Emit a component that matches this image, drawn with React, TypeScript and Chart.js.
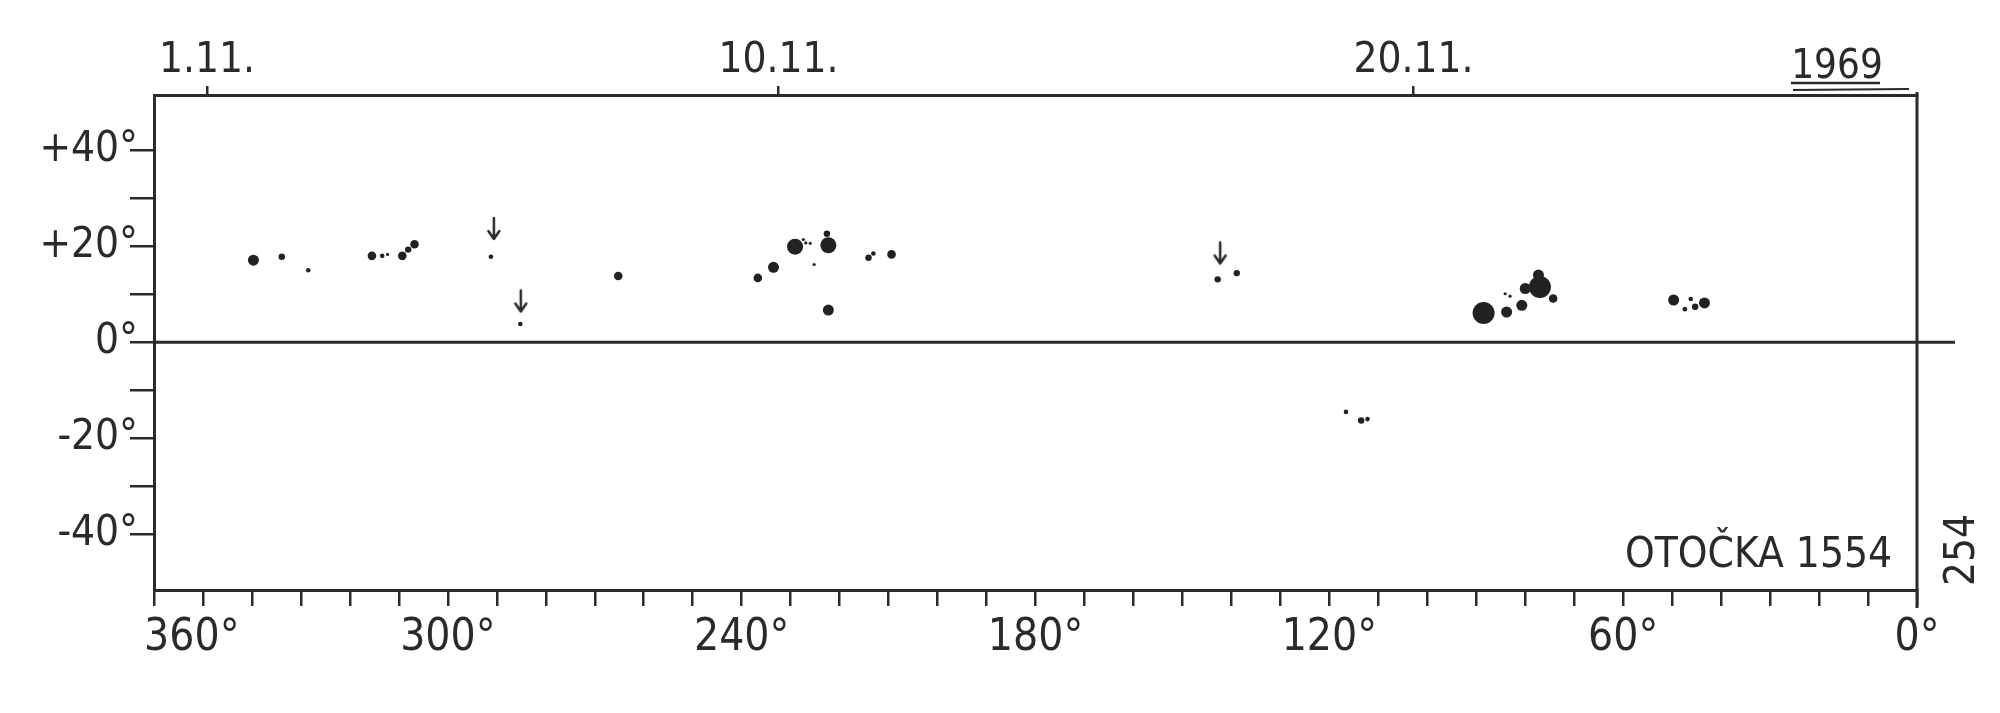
import React, { useEffect, useRef } from 'react';
import { Chart, registerables } from 'chart.js';

Chart.register(...registerables);

// ---- tick labels ----
const lonLabelValues = [360, 300, 240, 180, 120, 60, 0];
const latLabelValues = [40, 20, 0, -20, -40];
const dateDays = [1, 10, 20];
const dateLabels = ['1.11.', '10.11.', '20.11.'];
const yearLabel = '1969';
const rotationLabel = 'OTOČKA 1554';
const sideLabel = '254';

// ---- sunspot groups (Carrington longitude, latitude) by size class ----
const hugeLon = [88.5, 77.0];
const hugeLat = [6.1, 11.5];

const largeLon = [229.1, 222.3];
const largeLat = [19.9, 20.2];

const mediumLon = [339.7, 233.5, 222.3, 83.8, 80.0, 80.7, 77.3, 49.7, 43.4];
const mediumLat = [17.1, 15.6, 6.7, 6.3, 11.2, 7.7, 14.0, 8.8, 8.2];

const smallLon = [315.5, 309.3, 306.8, 265.2, 236.7, 209.4, 74.3];
const smallLat = [18.0, 18.0, 20.4, 13.8, 13.4, 18.3, 9.1];

const littleLon = [333.9, 308.1, 222.6, 214.1, 142.8, 138.9, 113.5, 45.3];
const littleLat = [17.8, 19.3, 22.6, 17.6, 13.1, 14.4, -16.3, 7.4];

const tinyLon = [328.5, 313.4, 291.2, 285.2, 213.1, 116.6, 112.2, 46.2, 47.4];
const tinyLat = [15.0, 18.0, 17.8, 3.8, 18.5, -14.5, -16.0, 9.0, 6.9];

const speckLon = [312.3, 227.4, 226.9, 226.0, 225.2, 84.1, 83.1];
const speckLat = [18.3, 21.4, 20.7, 20.6, 16.2, 10.1, 9.6];

// ---- arrows marking new groups ----
const arrowLon = [290.6, 285.1, 142.3];
const arrowLat = [23.6, 8.5, 18.5];

const INK = '#2a2a2a';
const FONT = '"Liberation Sans Narrow", "DejaVu Sans Condensed", "Roboto", sans-serif';

const pts = (lon: number[], lat: number[]) => lon.map((x, i) => ({ x, y: lat[i] }));

function makeArrow(): HTMLCanvasElement {
  const c = document.createElement('canvas');
  c.width = 16;
  c.height = 26;
  const g = c.getContext('2d')!;
  g.strokeStyle = INK;
  g.lineWidth = 2.5;
  g.lineCap = 'round';
  g.lineJoin = 'round';
  g.beginPath();
  g.moveTo(8, 2);
  g.lineTo(8, 23);
  g.moveTo(2.5, 15);
  g.lineTo(8, 23);
  g.lineTo(13.5, 15);
  g.stroke();
  return c;
}

const decor = {
  id: 'decor',
  beforeDatasetsDraw(chart: any) {
    const { ctx, chartArea: a, scales } = chart;
    const y0 = scales.y.getPixelForValue(0);
    ctx.save();
    ctx.strokeStyle = INK;
    ctx.lineWidth = 3;
    ctx.beginPath();
    ctx.moveTo(a.left, y0);
    ctx.lineTo(a.right + 38, y0);
    ctx.stroke();
    ctx.beginPath();
    ctx.moveTo(a.right, a.top - 3);
    ctx.lineTo(a.right, a.bottom + 18);
    ctx.stroke();
    ctx.restore();
  },
  afterDraw(chart: any) {
    const { ctx, chartArea: a } = chart;
    ctx.save();
    ctx.fillStyle = INK;
    ctx.strokeStyle = INK;
    // year with double underline
    ctx.font = `40px ${FONT}`;
    ctx.textAlign = 'center';
    ctx.textBaseline = 'alphabetic';
    ctx.fillText(yearLabel, a.right - 80, 78);
    ctx.lineWidth = 2.5;
    ctx.beginPath();
    ctx.moveTo(a.right - 126, 83);
    ctx.lineTo(a.right - 37, 83);
    ctx.stroke();
    ctx.lineWidth = 2;
    ctx.beginPath();
    ctx.moveTo(a.right - 124, 90);
    ctx.lineTo(a.right - 8, 89);
    ctx.stroke();
    // rotation label
    ctx.font = `42px ${FONT}`;
    ctx.textAlign = 'right';
    ctx.fillText(rotationLabel, a.right - 25, a.bottom - 23);
    // side number, rotated
    ctx.translate(a.right + 46, a.bottom - 40);
    ctx.rotate(-Math.PI / 2);
    ctx.textAlign = 'center';
    ctx.textBaseline = 'middle';
    ctx.font = `42px ${FONT}`;
    ctx.fillText(sideLabel, 0, 0);
    ctx.restore();
  },
};

export default function App() {
  const ref = useRef<HTMLCanvasElement>(null);

  useEffect(() => {
    if (!ref.current) return;
    const arrow = makeArrow();
    const spot = (label: string, lon: number[], lat: number[], r: number) => ({
      label,
      data: pts(lon, lat),
      pointRadius: r,
      pointHoverRadius: r,
      backgroundColor: '#222',
      borderColor: '#222',
      borderWidth: 0,
      xAxisID: 'x',
      yAxisID: 'y',
    });
    const chart = new Chart(ref.current, {
      type: 'scatter',
      data: {
        datasets: [
          spot('huge', hugeLon, hugeLat, 11),
          spot('large', largeLon, largeLat, 8),
          spot('medium', mediumLon, mediumLat, 5.5),
          spot('small', smallLon, smallLat, 4.3),
          spot('little', littleLon, littleLat, 3.2),
          spot('tiny', tinyLon, tinyLat, 2.3),
          spot('speck', speckLon, speckLat, 1.6),
          {
            label: 'arrows',
            data: pts(arrowLon, arrowLat),
            pointStyle: arrow,
            pointRadius: 10,
            xAxisID: 'x',
            yAxisID: 'y',
          } as any,
        ],
      },
      options: {
        animation: false,
        responsive: false,
        events: [],
        layout: { padding: { left: 0, right: 83, top: 0, bottom: 0 } },
        plugins: { legend: { display: false }, tooltip: { enabled: false }, title: { display: false } },
        scales: {
          x: {
            type: 'linear',
            position: 'bottom',
            reverse: true,
            min: 0,
            max: 360,
            afterBuildTicks: (s: any) => {
              const t = [];
              for (let v = 0; v <= 360; v += 10) t.push({ value: v });
              s.ticks = t;
            },
            afterFit: (s: any) => {
              s.height = 123;
            },
            border: { display: true, color: INK, width: 3 },
            grid: { display: true, drawOnChartArea: false, drawTicks: true, tickLength: 16, color: INK, lineWidth: 2.5 },
            ticks: {
              autoSkip: false,
              maxRotation: 0,
              padding: 6,
              color: INK,
              font: { family: FONT, size: 44 },
              callback: (v: any) => {
                const n = Number(v);
                if (!lonLabelValues.includes(n)) return '';
                return n === 360 ? `\u2007\u2007\u2007${n}°` : `${n}°`;
              },
            },
          },
          x2: {
            type: 'linear',
            position: 'top',
            min: 0.165,
            max: 27.93,
            afterBuildTicks: (s: any) => {
              s.ticks = dateDays.map((d) => ({ value: d }));
            },
            afterFit: (s: any) => {
              s.height = 95;
            },
            border: { display: true, color: INK, width: 3 },
            grid: { display: true, drawOnChartArea: false, drawTicks: true, tickLength: 9, color: INK, lineWidth: 2.5 },
            ticks: {
              autoSkip: false,
              maxRotation: 0,
              padding: 0,
              color: INK,
              font: { family: FONT, size: 42 },
              callback: (v: any) => {
                const i = dateDays.indexOf(Number(v));
                return i >= 0 ? dateLabels[i] : '';
              },
            },
          },
          y: {
            type: 'linear',
            position: 'left',
            min: -51.6,
            max: 51.5,
            afterBuildTicks: (s: any) => {
              const t = [];
              for (let v = -40; v <= 40; v += 10) t.push({ value: v });
              s.ticks = t;
            },
            afterFit: (s: any) => {
              s.width = 154;
            },
            border: { display: true, color: INK, width: 3 },
            grid: { display: true, drawOnChartArea: false, drawTicks: true, tickLength: 24, color: INK, lineWidth: 2.5 },
            ticks: {
              autoSkip: false,
              padding: -8,
              color: INK,
              font: { family: FONT, size: 42 },
              callback: (v: any) => {
                const n = Number(v);
                if (!latLabelValues.includes(n)) return '';
                return n > 0 ? `+${n}°` : `${n}°`;
              },
            },
          },
        },
      },
      plugins: [decor],
    });
    return () => chart.destroy();
  }, []);

  return (
    <div style={{ position: 'fixed', left: 0, top: 0, width: 2000, height: 713, background: '#fff' }}>
      <canvas ref={ref} width={2000} height={713} style={{ display: 'block', width: 2000, height: 713 }} />
    </div>
  );
}
